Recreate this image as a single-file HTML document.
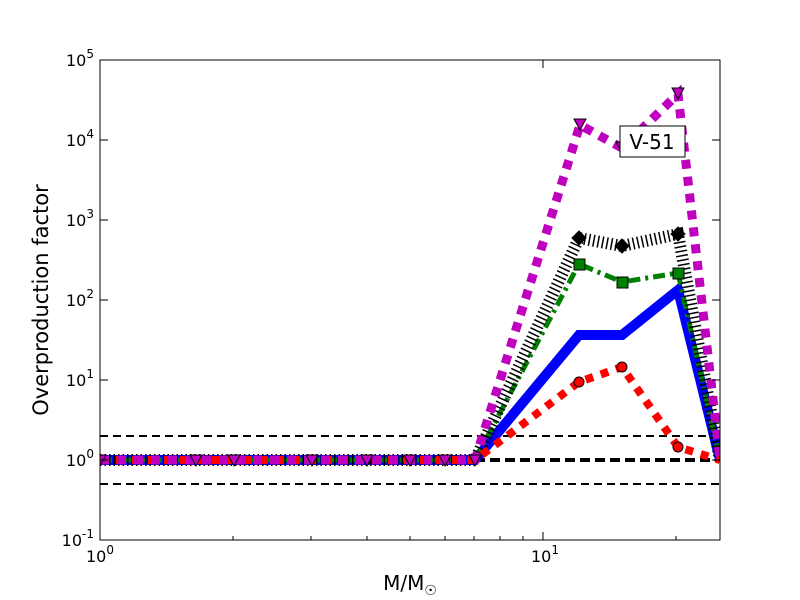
<!DOCTYPE html>
<html><head><meta charset="utf-8"><style>body{margin:0;background:#fff}svg{display:block}</style></head><body>
<svg width="800" height="600" xmlns="http://www.w3.org/2000/svg" font-family="DejaVu Sans, Liberation Sans, sans-serif">
<defs><clipPath id="c"><rect x="100" y="60" width="620" height="480"/></clipPath></defs>
<rect width="800" height="600" fill="#fff"/>
<g clip-path="url(#c)">
<line x1="100" y1="436" x2="720" y2="436" stroke="#000" stroke-width="2" stroke-dasharray="8 5"/>
<line x1="100" y1="484" x2="720" y2="484" stroke="#000" stroke-width="2" stroke-dasharray="8 5"/>
<line x1="100" y1="460" x2="720" y2="460" stroke="#000" stroke-width="4" stroke-dasharray="10 5"/>
<polyline fill="none" stroke="#0000ff" stroke-width="10" points="100,460 196,460 234,460 312,460 367,460 410,460 445,460 475,460 579,335 622,335 678,290 720,460"/>
<polyline fill="none" stroke="#008000" stroke-width="5" stroke-dasharray="12 5 3 5" points="100,460 196,460 234,460 312,460 367,460 410,460 445,460 475,460 579,264 622,282 678,273 720,460"/>
<polyline fill="none" stroke="#000" stroke-width="12" stroke-dasharray="1.5 3" points="100,460 196,460 234,460 312,460 367,460 410,460 445,460 475,460 579,238 622,246 678,234 720,460"/>
<polyline fill="none" stroke="#ff0000" stroke-width="8" stroke-dasharray="8 8" points="100,460 196,460 234,460 312,460 367,460 410,460 445,460 475,460 579,382 622,367 678,447 720,460"/>
<polyline fill="none" stroke="#bf00bf" stroke-width="9" stroke-dasharray="9 8" points="100,460 196,460 234,460 312,460 367,460 410,460 445,460 475,460 580,125 622,148 678,94 720,460"/>
<g stroke="#000" stroke-width="1">
<circle cx="579" cy="382" r="5" fill="#ff0000"/><circle cx="622" cy="367" r="5" fill="#ff0000"/><circle cx="678" cy="447" r="5" fill="#ff0000"/>
<polygon points="579,231 586,238 579,245 572,238" fill="#000"/><polygon points="622,239 629,246 622,253 615,246" fill="#000"/><polygon points="678,227 685,234 678,241 671,234" fill="#000"/>
<rect x="574" y="259" width="11" height="11" fill="#008000"/><rect x="617" y="277" width="11" height="11" fill="#008000"/><rect x="673" y="268" width="11" height="11" fill="#008000"/>
<polygon points="574,119 586,119 580,130" fill="#bf00bf"/><polygon points="616,142 628,142 622,153" fill="#bf00bf"/><polygon points="672,88 684,88 678,99" fill="#bf00bf"/>
<g fill="#bf00bf">
<polygon points="94,455 106,455 100,466"/><polygon points="190,455 202,455 196,466"/><polygon points="228,455 240,455 234,466"/><polygon points="306,455 318,455 312,466"/><polygon points="361,455 373,455 367,466"/><polygon points="404,455 416,455 410,466"/><polygon points="439,455 451,455 445,466"/><polygon points="469,455 481,455 475,466"/>
</g>
</g>
</g>
<rect x="100" y="60" width="620" height="480" fill="none" stroke="#000" stroke-width="1"/>
<g stroke="#000" stroke-width="1">
<line x1="543" y1="540" x2="543" y2="532"/><line x1="543" y1="60" x2="543" y2="68"/>
<line x1="233" y1="540" x2="233" y2="536"/><line x1="311" y1="540" x2="311" y2="536"/><line x1="367" y1="540" x2="367" y2="536"/><line x1="410" y1="540" x2="410" y2="536"/><line x1="445" y1="540" x2="445" y2="536"/><line x1="474" y1="540" x2="474" y2="536"/><line x1="500" y1="540" x2="500" y2="536"/><line x1="523" y1="540" x2="523" y2="536"/><line x1="676" y1="540" x2="676" y2="536"/>
<line x1="100" y1="140" x2="108" y2="140"/><line x1="100" y1="220" x2="108" y2="220"/><line x1="100" y1="300" x2="108" y2="300"/><line x1="100" y1="380" x2="108" y2="380"/><line x1="100" y1="460" x2="108" y2="460"/>
<line x1="720" y1="140" x2="712" y2="140"/><line x1="720" y1="220" x2="712" y2="220"/><line x1="720" y1="300" x2="712" y2="300"/><line x1="720" y1="380" x2="712" y2="380"/><line x1="720" y1="460" x2="712" y2="460"/>
</g>
<rect x="620" y="126" width="65" height="31" fill="#fff" stroke="#000"/>
<text x="652" y="149" font-size="20" text-anchor="middle">V-51</text>
<g font-size="16" text-anchor="end">
<text x="94" y="66">10<tspan font-size="12" dy="-8">5</tspan></text>
<text x="94" y="146">10<tspan font-size="12" dy="-8">4</tspan></text>
<text x="94" y="226">10<tspan font-size="12" dy="-8">3</tspan></text>
<text x="94" y="306">10<tspan font-size="12" dy="-8">2</tspan></text>
<text x="94" y="386">10<tspan font-size="12" dy="-8">1</tspan></text>
<text x="94" y="466">10<tspan font-size="12" dy="-8">0</tspan></text>
<text x="94" y="546">10<tspan font-size="12" dy="-8">-1</tspan></text>
</g>
<g font-size="16" text-anchor="middle">
<text x="100" y="562">10<tspan font-size="12" dy="-8">0</tspan></text>
<text x="545" y="562">10<tspan font-size="12" dy="-8">1</tspan></text>
</g>
<text x="410" y="590" font-size="20" text-anchor="middle">M/M<tspan font-size="14" dy="5">☉</tspan></text>
<text transform="translate(48,300) rotate(-90)" font-size="21" text-anchor="middle">Overproduction factor</text>
</svg>
</body></html>
